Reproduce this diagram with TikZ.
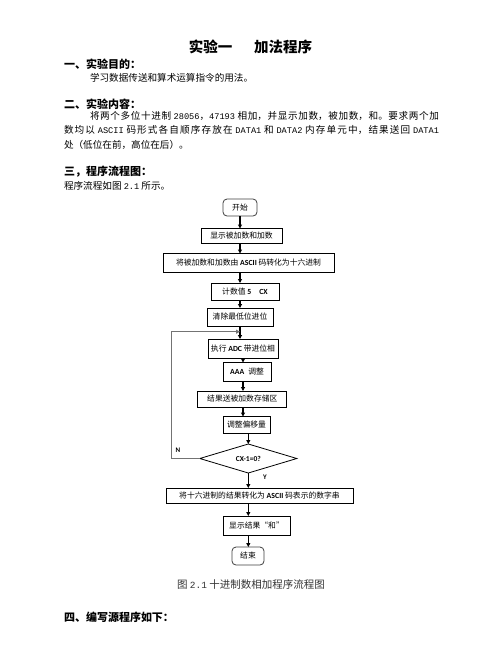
\documentclass[tikz,border=0pt]{standalone}
\usepackage{fontspec}
\setmainfont{Noto Sans CJK SC}
\newfontfamily\monof[Scale=0.9]{Liberation Mono}
\newfontfamily\calf{Carlito}
\usetikzlibrary{arrows.meta,shapes.geometric}
\XeTeXlinebreaklocale "zh"
\XeTeXlinebreakskip=0pt plus 2pt
\begin{document}
\begin{tikzpicture}[x=1pt,y=-1pt,
  every node/.style={inner sep=0pt,outer sep=0pt},
  title/.style={font=\bfseries\fontsize{14.5}{16}\selectfont},
  head/.style={anchor=west,font=\bfseries\fontsize{11}{13}\selectfont},
  body/.style={anchor=west,font=\fontsize{9.6}{12}\selectfont},
  proc/.style={draw,line width=0.8pt,font=\fontsize{7.8}{9}\selectfont},
  term/.style={draw=black!75,line width=0.8pt,rounded corners=4pt,font=\fontsize{7.8}{9}\selectfont},
  dec/.style={draw,diamond,line width=0.8pt,aspect=3.3,font=\calf\bfseries\fontsize{7.5}{9}\selectfont},
  arr/.style={line width=1.1pt,-{Triangle[length=4pt,width=4pt]}},
  loopln/.style={draw=black!55,line width=1.4pt,-{Triangle[length=4pt,width=4pt]}},
  lab/.style={font=\calf\bfseries\fontsize{7}{8}\selectfont}]
\useasboundingbox[fill=white] (0,0) rectangle (502,649);

% text
\node[title] (t) at (250.5,47) {实验一\hspace{22pt}加法程序};
\node[head] (h1) at (64,64) {一、实验目的：};
\node[body] (l1) at (90,77.5) {学习数据传送和算术运算指令的用法。};
\node[head] (h2) at (64,104) {二、实验内容：};
\node[anchor=north west,text width=375pt,align=justify,font=\fontsize{9.6}{14.5}\selectfont] (para) at (64,111)
 {\hspace*{26pt}将两个多位十进制 {\monof 28056}，{\monof 47193} 相加，并显示加数，被加数，和。要求两个加\linebreak
  数均以 {\monof ASCII} 码形式各自顺序存放在 {\monof DATA1} 和 {\monof DATA2} 内存单元中，结果送回 {\monof DATA1}\linebreak
  处（低位在前，高位在后）。};
\node[head] (h3) at (64,172) {三，程序流程图：};
\node[body] (l2) at (64,186) {程序流程如图 {\monof 2.1} 所示。};

% flowchart
\node[term,minimum width=34pt,minimum height=17pt] (start) at (240,207.5) {开始};
\node[proc,minimum width=81pt,minimum height=15pt] (b1) at (241.5,236) {显示被加数和加数};
\node[proc,minimum width=171pt,minimum height=19pt] (b2) at (248.5,263) {将被加数和加数由 {\calf\bfseries ASCII} 码转化为十六进制};
\node[proc,minimum width=68pt,minimum height=17pt] (b3) at (245,291.5) {计数值 {\calf\bfseries 5}\hspace{8pt}{\calf\bfseries CX}};
\node[proc,minimum width=66pt,minimum height=18pt] (b4) at (240,317) {清除最低位进位};
\node[proc,minimum width=70pt,minimum height=19pt] (b5) at (243,348.5) {执行 {\calf\bfseries ADC} 带进位相};
\node[proc,minimum width=48pt,minimum height=19pt] (b6) at (247,372) {{\calf\bfseries AAA}\hspace{4pt}调整};
\node[proc,minimum width=89pt,minimum height=16pt] (b7) at (242.3,399) {结果送被加数存储区};
\node[proc,minimum width=47pt,minimum height=17pt] (b8) at (246.5,425) {调整偏移量};
\node[dec,minimum width=97pt,minimum height=29pt] (d) at (248.3,458.5) {CX-1=0?};
\node[proc,minimum width=187pt,minimum height=15pt] (b9) at (259.5,495.5) {将十六进制的结果转化为 {\calf\bfseries ASCII} 码表示的数字串};
\node[proc,minimum width=67pt,minimum height=19pt] (b10) at (256.5,525.5) {显示结果“和”};
\node[term,minimum width=32pt,minimum height=18pt] (end) at (248,556) {结束};

\node[lab] (N) at (178,450) {N};
\node[lab] (Y) at (265,477.5) {Y};

\draw[arr] (start.south) -- (start.south |- b1.north);
\draw[arr] (b1.south -| start) -- (b2.north -| start);
\draw[arr] (b2.south -| start) -- (b3.north -| start);
\draw[arr] (b3.south -| b4) -- (b4.north);
\draw[arr] (b4.south) -- (b5.north -| b4);
\draw[arr] (b5.south) -- (b6.north -| b5);
\draw[arr] (b6.south -| b5) -- (b7.north -| b5);
\draw[arr] (b7.south -| b5) -- (b8.north -| b5);
\draw[arr] (b8.south -| d) -- (d.north);
\draw[arr] (d.south) -- (b9.north -| d);
\draw[arr] (b9.south -| d) -- (b10.north -| d);
\draw[arr] (b10.south -| d) -- (end.north -| d);

\coordinate (lp) at (171.7,331.7);
\coordinate (join) at (240,331.7);
\draw[loopln] (d.west) -| (lp) -- (join);

\node[font=\fontsize{10.5}{12}\selectfont,text=black!80] (cap) at (251,584) {图 {\monof 2.1} 十进制数相加程序流程图};
\node[head] (h4) at (64,617) {四、编写源程序如下：};
\end{tikzpicture}
\end{document}
